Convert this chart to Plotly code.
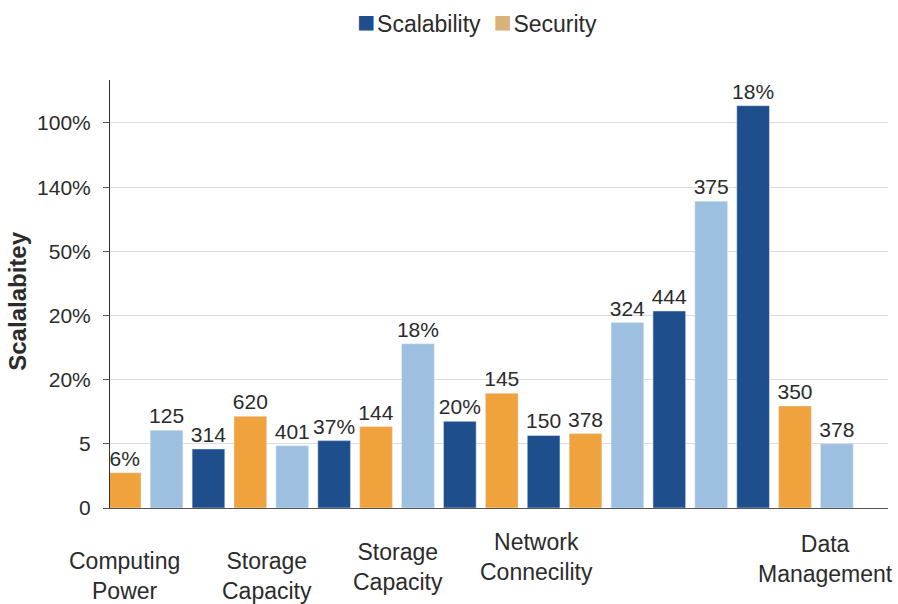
import plotly.graph_objects as go

# ---- data ----
bar_labels = ["6%", "125", "314", "620", "401", "37%", "144", "18%", "20%",
              "145", "150", "378", "324", "444", "375", "18%", "350", "378"]
bar_values = [0.55, 1.21, 0.92, 1.43, 0.97, 1.05, 1.27, 2.56, 1.35,
              1.79, 1.13, 1.16, 2.89, 3.07, 4.78, 6.27, 1.59, 1.00]
bar_series = ["Security", "Other", "Scalability", "Security", "Other", "Scalability",
              "Security", "Other", "Scalability", "Security", "Scalability", "Security",
              "Other", "Scalability", "Other", "Scalability", "Security", "Other"]
ytick_labels = ["0", "5", "20%", "20%", "50%", "140%", "100%"]
category_labels = ["Computing<br>Power", "Storage<br>Capacity", "Storage<br>Capacity",
                   "Network<br>Connecility", "Data<br>Management"]
legend_names = ["Scalability", "Security"]
y_title = "Scalalabitey"

colors = {"Scalability": "#1F4E8C", "Security": "#F0A33C", "Other": "#9DC0E0"}
legend_colors = {"Scalability": "#1F4E8C", "Security": "#D9B27A"}
order = ["Scalability", "Security", "Other"]

# label placement (layout only)
category_pos = [0.0, 3.39, 6.53, 9.84, 16.72]
category_ypaper = [-0.158, -0.158, -0.137, -0.114, -0.118]

FONT = "Liberation Sans, Arial, sans-serif"
TXT = "#2b2b2b"
fig = go.Figure()
for s in order:
    xs = [i for i, t in enumerate(bar_series) if t == s]
    fig.add_trace(go.Bar(
        x=xs, y=[bar_values[i] for i in xs], text=[bar_labels[i] for i in xs],
        name=s, showlegend=False, marker_color=colors[s],
        textposition="outside", cliponaxis=False, width=0.78, constraintext="none",
        textfont=dict(size=21, color=TXT, family=FONT),
    ))

for lab, xp, yp in zip(category_labels, category_pos, category_ypaper):
    fig.add_annotation(x=xp, y=yp, xref="x", yref="paper", text=lab, showarrow=False,
                       font=dict(size=23, color=TXT, family=FONT),
                       xanchor="center", yanchor="middle")

legend_text = "&nbsp; ".join(
    f"<span style='color:{legend_colors[n]};font-size:30px'>■</span>&#8202;{n}" for n in legend_names)
fig.add_annotation(x=(477 - 110) / 778, y=(508.5 - 21) / 428.5, xref="paper", yref="paper",
                   yanchor="middle", text=legend_text, showarrow=False,
                   font=dict(size=23, color=TXT, family=FONT))

fig.add_annotation(x=(18 - 110) / 778, y=(508.5 - 302) / 428.5, xref="paper", yref="paper",
                   text=f"<b>{y_title}</b>", textangle=-90, showarrow=False,
                   xanchor="center", yanchor="middle",
                   font=dict(size=24, color=TXT, family=FONT))

fig.update_layout(
    width=898, height=604, plot_bgcolor="white", paper_bgcolor="white",
    margin=dict(l=110, r=10, t=80, b=95.5),
    barmode="overlay", showlegend=False, font=dict(family=FONT, color=TXT),
    xaxis=dict(range=[-0.35, 18.22], showticklabels=False, showgrid=False,
               showline=True, linecolor="#555", linewidth=1, zeroline=False),
    yaxis=dict(range=[0, 6.67], tickvals=list(range(7)), ticktext=ytick_labels,
               showgrid=True, gridcolor="#dcdcdc", gridwidth=1, zeroline=False,
               showline=True, linecolor="#333", linewidth=1,
               ticks="outside", ticklen=6, tickcolor="#555", ticklabelstandoff=8,
               tickfont=dict(size=21, family=FONT, color=TXT)),
)

fig.write_html("out.html")
